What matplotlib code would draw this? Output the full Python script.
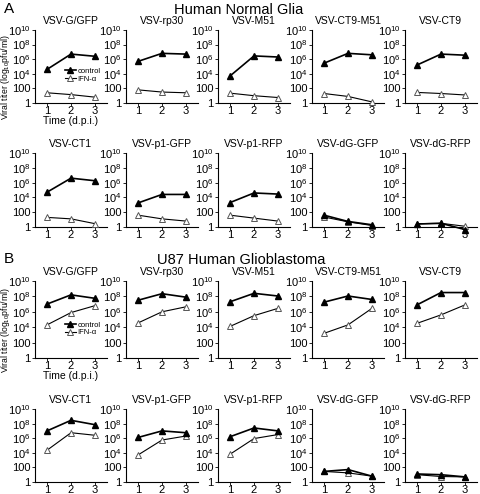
import matplotlib
matplotlib.use('Agg')
import matplotlib.pyplot as plt
import numpy as np

plt.rcParams['font.family'] = ['Liberation Sans', 'DejaVu Sans']
plt.rcParams['mathtext.fontset'] = 'custom'
plt.rcParams['mathtext.rm'] = 'Liberation Sans'
plt.rcParams['mathtext.it'] = 'Liberation Sans:italic'
plt.rcParams['mathtext.bf'] = 'Liberation Sans:bold'

# virus names, same order in both panels
viruses = ['VSV-G/GFP', 'VSV-rp30', 'VSV-M51', 'VSV-CT9-M51', 'VSV-CT9',
           'VSV-CT1', 'VSV-p1-GFP', 'VSV-p1-RFP', 'VSV-dG-GFP', 'VSV-dG-RFP']
days = [1, 2, 3]

# log10 titers
glia_control = [[4.6, 6.7, 6.4], [5.7, 6.8, 6.7], [3.7, 6.45, 6.3],
                [5.45, 6.8, 6.6], [5.2, 6.7, 6.55], [4.7, 6.6, 6.25],
                [3.25, 4.4, 4.4], [3.3, 4.6, 4.45], [1.6, 0.75, 0.3],
                [0.4, 0.5, -0.35]]
glia_ifn = [[1.4, 1.15, 0.8], [1.8, 1.5, 1.4], [1.35, 1.0, 0.75],
            [1.3, 0.9, 0.15], [1.45, 1.3, 1.1], [1.3, 1.1, 0.45],
            [1.6, 1.1, 0.8], [1.6, 1.2, 0.8], [1.35, 0.7, 0.2],
            [0.45, 0.5, 0.1]]
u87_control = [[7.0, 8.2, 7.75], [7.5, 8.35, 7.9], [7.3, 8.4, 8.05],
               [7.25, 8.05, 7.6], [6.9, 8.5, 8.5], [7.0, 8.45, 7.85],
               [6.1, 7.0, 6.75], [6.2, 7.4, 7.0], [1.45, 1.7, 0.8],
               [1.1, 1.0, 0.7]]
u87_ifn = [[4.3, 5.9, 6.8], [4.55, 6.0, 6.65], [4.1, 5.5, 6.45],
           [3.2, 4.3, 6.45], [4.5, 5.6, 6.9], [4.35, 6.75, 6.4],
           [3.7, 5.75, 6.3], [3.8, 5.95, 6.5], [1.45, 1.25, 0.8],
           [1.0, 0.75, 0.7]]

yticks = [1, 1e2, 1e4, 1e6, 1e8, 1e10]
ytick_labels = ['1', '100', '10$^4$', '10$^6$', '10$^8$', '10$^{10}$']

fig = plt.figure(figsize=(4.8, 4.94), dpi=100)
W, H = 480.0, 494.0

col_left = [35, 126, 218, 312, 405]
ax_w = 72
# (top, bottom) pixel rows of each axes row
row_px = [(30, 103), (153, 227), (281, 358), (409, 482)]


def make_axes(row, col):
    top, bot = row_px[row]
    return fig.add_axes([col_left[col] / W, 1 - bot / H, ax_w / W, (bot - top) / H])


def draw(ax, name, ctrl, ifn, first=False):
    ax.plot(days, 10 ** np.array(ifn), color='black', lw=0.8, marker='^',
            ms=5, mfc='white', mec='#555555', mew=0.7, clip_on=False,
            label='IFN-α', zorder=3)
    ax.plot(days, 10 ** np.array(ctrl), color='black', lw=1.2, marker='^',
            ms=5, mfc='black', mec='black', clip_on=False,
            label='control', zorder=4)
    ax.set_yscale('log')
    ax.set_ylim(1, 1e10)
    ax.set_xlim(0.5, 3.5)
    ax.set_yticks(yticks)
    ax.set_yticklabels(ytick_labels)
    ax.minorticks_off()
    ax.set_xticks(days)
    ax.set_xticklabels(['1', '2', '3'])
    ax.spines['top'].set_visible(False)
    ax.spines['right'].set_visible(False)
    ax.spines['left'].set_linewidth(0.8)
    ax.spines['bottom'].set_linewidth(0.8)
    ax.tick_params(axis='y', labelsize=8, length=2, width=0.6, pad=1)
    ax.tick_params(axis='x', labelsize=8, length=2, width=0.6, pad=0.5)
    ax.set_title(name, fontsize=7.5, pad=4)
    if first:
        h, l = ax.get_legend_handles_labels()
        ax.legend(h[::-1], l[::-1], loc='center left', bbox_to_anchor=(0.36, 0.38),
                  frameon=False, fontsize=5.5, handlelength=1.5, handletextpad=0.2,
                  labelspacing=0.05, borderpad=0, markerscale=0.8)
        ax.set_xlabel('Time (d.p.i.)', fontsize=7.5, labelpad=0)
        ax.set_ylabel('Viral titer (log$_{10}$pfu/ml)', fontsize=6.2)
        ax.yaxis.set_label_coords(-0.325, 0.36)


for i, name in enumerate(viruses):
    r, c = divmod(i, 5)
    draw(make_axes(r, c), name, glia_control[i], glia_ifn[i], first=(i == 0))
    draw(make_axes(r + 2, c), name, u87_control[i], u87_ifn[i], first=(i == 0))

fig.text(4 / W, 1 - 9 / H, 'A', fontsize=11, va='center', ha='left')
fig.text(239 / W, 1 - 10 / H, 'Human Normal Glia', fontsize=10.5, va='center', ha='center')
fig.text(4 / W, 1 - 259 / H, 'B', fontsize=11, va='center', ha='left')
fig.text(241 / W, 1 - 260 / H, 'U87 Human Glioblastoma', fontsize=10.5, va='center', ha='center')

fig.savefig('out.png', dpi=100)
